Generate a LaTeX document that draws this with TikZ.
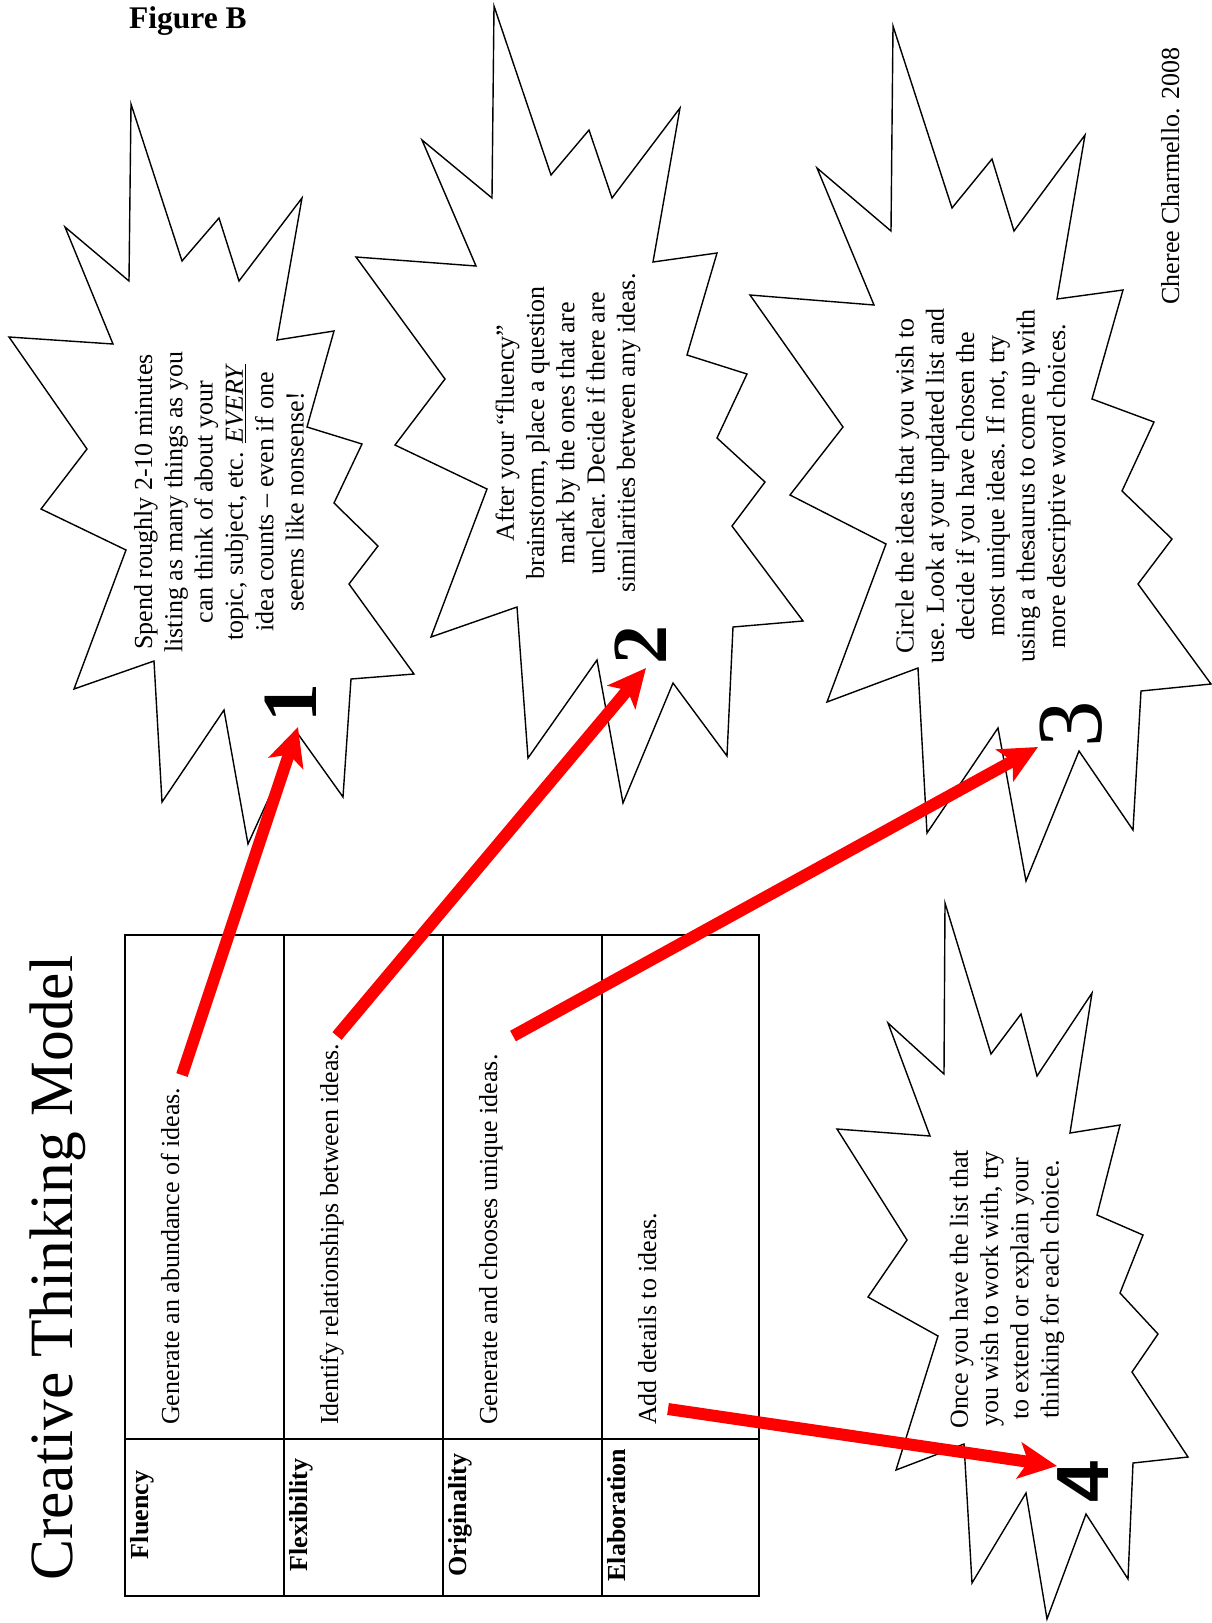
\documentclass[tikz,border=0pt]{standalone}
\usepackage{fontspec}
\setmainfont{Liberation Serif}
\newfontfamily\numsans{Liberation Sans}
\usepackage{tikz}
\usetikzlibrary{arrows.meta}
\definecolor{arrowred}{RGB}{255,0,0}

\begin{document}
\begin{tikzpicture}[x=1pt,y=-1pt,
  burst/.style={draw=black,line width=1.4pt,fill=white},
  grid/.style={draw=black,line width=1.8pt},
  txt/.style={rotate=90,align=center,inner sep=0pt,font=\fontsize{26}{30.3}\selectfont},
  head/.style={rotate=90,anchor=base,inner sep=0pt,font=\fontsize{26}{30}\selectfont\bfseries},
  cell/.style={rotate=90,anchor=base west,inner sep=0pt,font=\fontsize{26}{30}\selectfont},
  num/.style={rotate=90,inner sep=0pt,font=\fontsize{78}{80}\selectfont\bfseries},
  arr/.style={arrowred,line width=12pt,-{Stealth[length=38pt,width=36pt,inset=9pt]}}
]
\useasboundingbox[fill=white] (0,0) rectangle (1212,1623);

% Heading
\node[anchor=base west,inner sep=0pt,font=\fontsize{31.5}{32}\selectfont\bfseries] (fig) at (129,28) {Figure B};
\node[rotate=90,anchor=base west,inner sep=0pt,font=\fontsize{61.5}{62}\selectfont] (title) at (72,1581) {Creative Thinking Model};
\node[rotate=90,anchor=base,inner sep=0pt,font=\fontsize{26}{30}\selectfont] (credit) at (1179,176) {Cheree Charmello. 2008};

% Bursts
\draw[burst] (131,104) -- (182,261) -- (219,218) -- (239,281) -- (302,198) -- (277,340) -- (334,331) -- (307,427) -- (362,444) -- (334,503) -- (378,546) -- (349,584) -- (414,674) -- (351,679) -- (343,797) -- (298,734) -- (248,844) -- (224,710) -- (162,802) -- (154,661) -- (74,689) -- (126,550) -- (41,509) -- (87,449) -- (9,337) -- (113,344) -- (65,227) -- (129,281) -- cycle;
\draw[burst] (494,6) -- (551,175) -- (589,130) -- (612,198) -- (680,108) -- (653,262) -- (717,253) -- (687,355) -- (747,374) -- (717,438) -- (765,482) -- (732,526) -- (803,621) -- (733,627) -- (727,756) -- (673,683) -- (623,803) -- (597,660) -- (528,758) -- (517,607) -- (431,637) -- (487,489) -- (395,445) -- (445,379) -- (356,257) -- (476,266) -- (422,140) -- (492,198) -- cycle;
\draw[burst] (893,26) -- (952,208) -- (992,159) -- (1014,231) -- (1085,135) -- (1057,299) -- (1123,290) -- (1092,399) -- (1154,422) -- (1122,491) -- (1172,539) -- (1138,584) -- (1211,684) -- (1141,691) -- (1133,830) -- (1079,751) -- (1026,881) -- (998,728) -- (927,833) -- (918,668) -- (827,702) -- (886,544) -- (790,495) -- (843,427) -- (750,295) -- (874,305) -- (817,168) -- (891,231) -- cycle;
\draw[burst] (945,903) -- (991,1054) -- (1021,1014) -- (1037,1076) -- (1092,993) -- (1070,1133) -- (1120,1125) -- (1097,1215) -- (1143,1235) -- (1120,1293) -- (1158,1334) -- (1132,1372) -- (1188,1457) -- (1133,1463) -- (1128,1579) -- (1086,1514) -- (1047,1619) -- (1026,1493) -- (972,1583) -- (964,1444) -- (896,1470) -- (938,1336) -- (868,1297) -- (907,1240) -- (837,1129) -- (930,1136) -- (888,1023) -- (944,1074) -- cycle;

% Burst texts
\node[txt] (step1) at (219,502) {Spend roughly 2-10 minutes\\listing as many things as you\\can think of about your\\topic, subject, etc. \underline{\textit{EVERY}}\\idea counts – even if one\\seems like nonsense!};
\node[txt] (step2) at (568,433) {After your “fluency”\\brainstorm, place a question\\mark by the ones that are\\unclear. Decide if there are\\similarities between any ideas.};
\node[txt] (step3) at (983,486) {Circle the ideas that you wish to\\use. Look at your updated list and\\decide if you have chosen the\\most unique ideas. If not, try\\using a thesaurus to come up with\\more descriptive word choices.};
\node[txt] (step4) at (1007,1289) {Once you have the list that\\you wish to work with, try\\to extend or explain your\\thinking for each choice.};

% Numbers
\node[num] (n1) at (291,703) {1};
\node[num] (n2) at (641,645) {2};
\node[num,font=\fontsize{93}{95}\selectfont] (n3) at (1071,724) {3};
\node[num,font=\fontsize{74}{76}\selectfont\numsans\bfseries] (n4) at (1083,1482) {4};

% Table
\draw[grid] (125,935) rectangle (759,1596);
\foreach \x in {284,443,602} \draw[grid] (\x,935) -- (\x,1596);
\draw[grid] (125,1439) -- (759,1439);

\node[head] (flu) at (148,1515) {Fluency};
\node[head] (flx) at (307,1515) {Flexibility};
\node[head] (ori) at (466,1515) {Originality};
\node[head] (ela) at (625,1515) {Elaboration};

\node[cell] (gen) at (179,1425) {Generate an abundance of ideas.};
\node[cell] (rel) at (338,1425) {Identify relationships between ideas.};
\node[cell] (uni) at (497,1425) {Generate and chooses unique ideas.};
\node[cell] (det) at (656,1425) {Add details to ideas.};

% Arrows
\coordinate (a1) at (182,1075);
\coordinate (b1) at (298,727);
\coordinate (a2) at (337,1036);
\coordinate (b2) at (646,668);
\coordinate (a3) at (513,1036);
\coordinate (b3) at (1038,747);
\coordinate (a4) at (668,1409);
\coordinate (b4) at (1057,1466);
\draw[arr] (a1) -- (b1);
\draw[arr] (a2) -- (b2);
\draw[arr] (a3) -- (b3);
\draw[arr] (a4) -- (b4);
\end{tikzpicture}
\end{document}
